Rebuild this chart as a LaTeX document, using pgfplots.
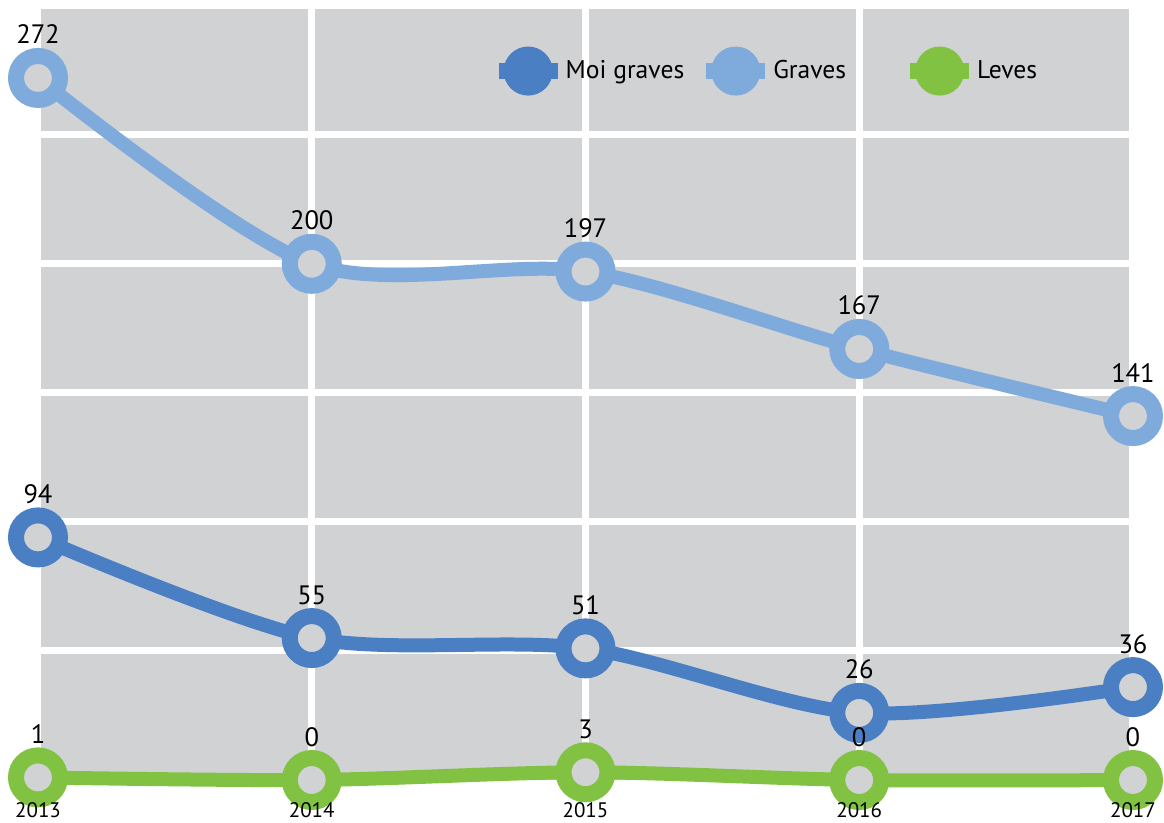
\documentclass[border=0pt]{standalone}
\usepackage{pgfplots}
\pgfplotsset{compat=1.18}
\usepackage{fontspec}
\setmainfont{PT Sans}
\definecolor{bggray}{HTML}{D1D2D4}
\definecolor{moiblue}{HTML}{4A80C3}
\definecolor{gravblue}{HTML}{7FAADC}
\definecolor{levgreen}{HTML}{82C242}
\newcommand{\lblfont}{\fontsize{13.3}{16}\selectfont}
\pgfplotsset{
  layers/ticksontop/.define layer set={
    axis background,axis grid,axis ticks,axis lines,main,axis tick labels,axis descriptions,axis foreground
  }{/pgfplots/layers/standard},
}
\begin{document}
\begin{tikzpicture}
\begin{axis}[
  set layers=ticksontop,
  scale only axis,
  width=547.5pt, height=389.1pt,
  xmin=2013, xmax=2017, ymin=-1.5, ymax=300,
  clip=false,
  axis background/.style={fill=bggray},
  axis line style={white, line width=3.5pt},
  grid=major,
  major grid style={white, line width=3.5pt},
  major tick length=0pt,
  xtick={2013,2014,2015,2016,2017},
  xticklabels={2013,2014,2015,2016,2017},
  xticklabel style={font=\fontsize{10.5}{12}\selectfont, anchor=north, inner sep=0pt, yshift=-9pt},
  ytick={50,100,150,200,250},
  yticklabels={},
  /pgf/number format/assume math mode=true,
  every axis plot/.append style={smooth, tension=0.5, line width=7pt, mark=*, mark size=11pt},
  nodes near coords,
  every node near coord/.append style={anchor=base, yshift=17pt, font=\lblfont, text=black, inner sep=0pt},
  legend columns=3,
  legend style={draw=none, fill=none, inner sep=0pt, at={(0.413,0.916)}, anchor=west,
    font=\fontsize{12.8}{15}\selectfont,
    nodes={inner sep=0pt},
    /tikz/every odd column/.append style={column sep=0pt},
    /tikz/every even column/.append style={column sep=7pt}},
  legend image code/.code={
    \draw[line width=8pt] (0pt,0pt) -- (29.5pt,0pt);
    \fill (14.75pt,0pt) circle (8.75pt);
  },
]
\addplot[color=moiblue, mark options={fill=bggray, line width=8pt}]
  coordinates {(2013,94) (2014,55) (2015,51) (2016,26) (2017,36)};
\addlegendentry{Moi graves}
\addplot[color=gravblue, mark options={fill=bggray, line width=8pt}]
  coordinates {(2013,272) (2014,200) (2015,197) (2016,167) (2017,141)};
\addlegendentry{Graves\rule{21pt}{0pt}}
\addplot[color=levgreen, mark options={fill=bggray, line width=8pt}]
  coordinates {(2013,1) (2014,0) (2015,3) (2016,0) (2017,0)};
\addlegendentry{Leves}
\coordinate (bl) at (rel axis cs:0,0);
\end{axis}
\pgfresetboundingbox
\useasboundingbox ([shift={(-19pt,-19.55pt)}]bl) rectangle ++(582pt,411.5pt);
\end{tikzpicture}
\end{document}
